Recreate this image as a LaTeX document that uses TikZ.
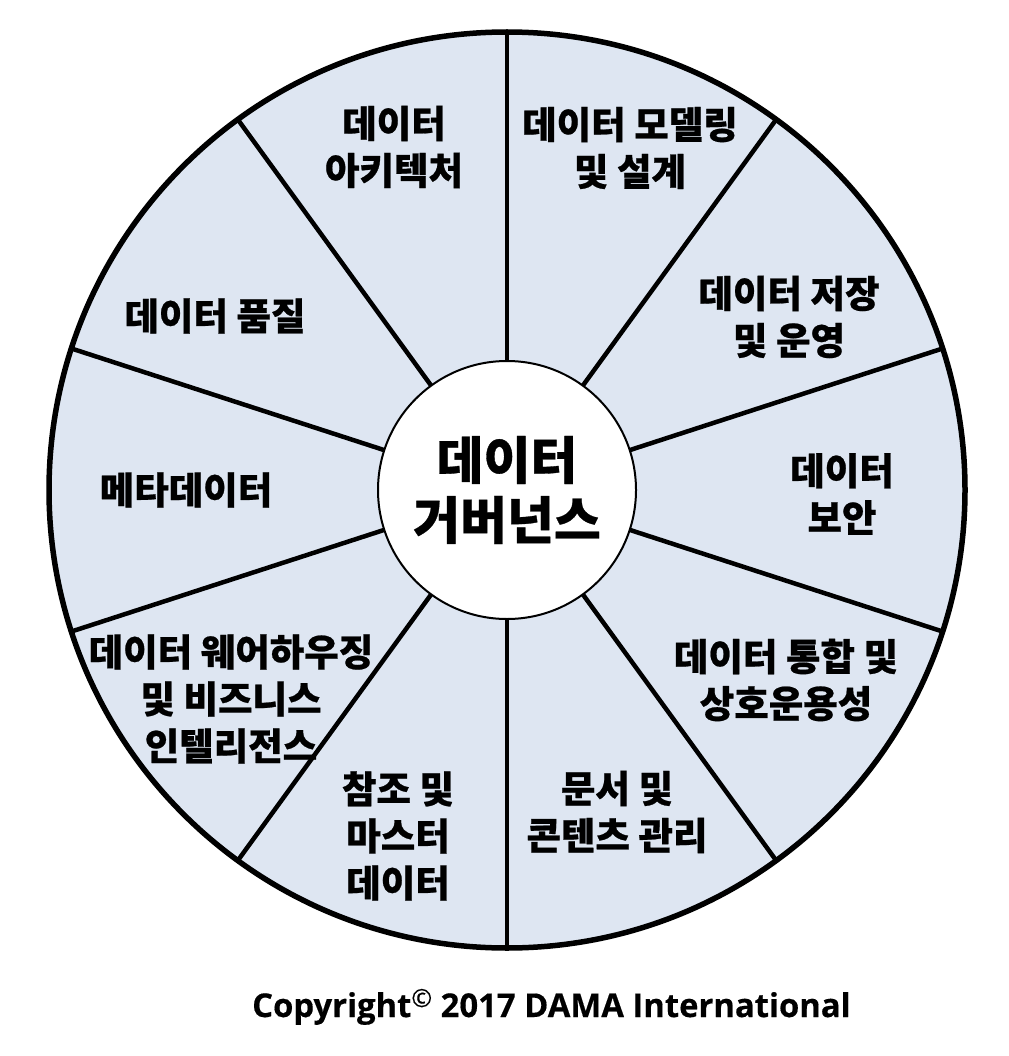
\documentclass[tikz,border=0pt]{standalone}
\usepackage{fontspec}
\newfontfamily\kr{Noto Sans CJK KR}[FakeBold=0.6]
\newfontfamily\os{Open Sans}[FakeBold=0.4]
\definecolor{segfill}{RGB}{222,230,242}
\tikzset{
  seglabel/.style={align=center, inner sep=0pt, font=\kr\bfseries\fontsize{37.5}{47}\selectfont},
  spoke/.style={line width=4.5pt, black},
}
\begin{document}
\begin{tikzpicture}[x=1pt,y=-1pt]
\useasboundingbox (0,0) rectangle (1008,1056);
\fill[white] (0,0) rectangle (1008,1056);
% outer rim
\node[circle, fill=segfill, minimum size=916pt, inner sep=0pt, outer sep=0pt] (rim) at (507,490) {};
% hub position
\node[circle, minimum size=258pt, inner sep=0pt, outer sep=0pt] (hubpos) at (507,490) {};
\foreach \a in {18,54,...,342} {
  \draw[spoke] (hubpos.\a) -- (rim.\a);
}
\node[circle, fill=white, draw=black, line width=2pt, minimum size=258pt, inner sep=0pt,
      align=center, font=\kr\bfseries\fontsize{51}{60}\selectfont] (hub) at (507,490) {데이터\\거버넌스};
\draw[line width=5.5pt] (rim.center) circle[radius=458pt];
% labels
\node[seglabel] (l1) at (394,147) {데이터\\아키텍처};
\node[seglabel] (l2) at (630,148) {데이터 모델링\\및 설계};
\node[seglabel] (l3) at (789,317) {데이터 저장\\및 운영};
\node[seglabel] (l4) at (842,494) {데이터\\보안};
\node[seglabel] (l5) at (786,680) {데이터 통합 및\\상호운용성};
\node[seglabel] (l6) at (617,812) {문서 및\\콘텐츠 관리};
\node[seglabel] (l7) at (398,836) {참조 및\\마스터\\데이터};
\node[seglabel] (l8) at (231,699) {데이터 웨어하우징\\및 비즈니스\\인텔리전스};
\node[seglabel] (l9) at (186,490) {메타데이터};
\node[seglabel] (l10) at (215,316) {데이터 품질};
% copyright
\node[anchor=base west, inner sep=0pt, font=\os\bfseries\fontsize{32.8}{33}\selectfont] (copy) at (252,1017)
  {Copyright\raisebox{10pt}{\mdseries\fontsize{25}{25}\selectfont ©} 2017 DAMA International};
\end{tikzpicture}
\end{document}
